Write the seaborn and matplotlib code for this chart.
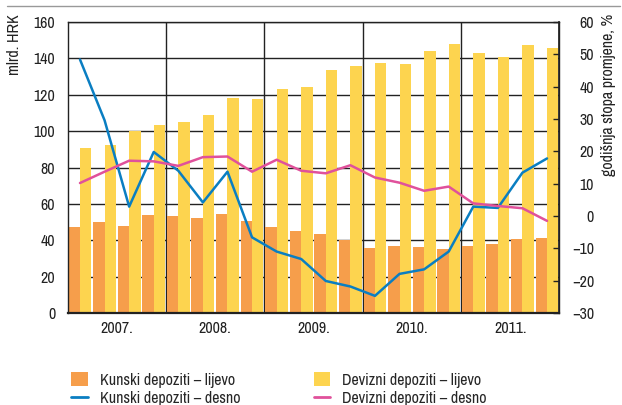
import numpy as np
import pandas as pd
import matplotlib
matplotlib.use("Agg")
import matplotlib.pyplot as plt
import seaborn as sns
from matplotlib.lines import Line2D
from matplotlib.patches import Patch

# ---- data ----
quarters = ["2007Q1", "2007Q2", "2007Q3", "2007Q4",
            "2008Q1", "2008Q2", "2008Q3", "2008Q4",
            "2009Q1", "2009Q2", "2009Q3", "2009Q4",
            "2010Q1", "2010Q2", "2010Q3", "2010Q4",
            "2011Q1", "2011Q2", "2011Q3", "2011Q4"]
year_labels = ["2007.", "2008.", "2009.", "2010.", "2011."]
left_ticks = [0, 20, 40, 60, 80, 100, 120, 140, 160]
right_ticks = [-30, -20, -10, 0, 10, 20, 30, 40, 50, 60]

kunski_lijevo = [47.3, 50.1, 47.9, 53.9, 53.4, 52.3, 54.5, 50.6, 47.3, 45.3,
                 43.5, 39.9, 35.8, 36.9, 36.4, 35.3, 36.9, 38.0, 40.8, 41.3]
devizni_lijevo = [90.7, 92.3, 100.0, 103.3, 104.9, 108.8, 118.1, 117.6, 123.0, 124.1,
                  133.5, 135.6, 137.3, 136.7, 143.9, 147.9, 142.8, 140.6, 147.2, 145.5]
kunski_desno = [48.4, 29.6, 2.9, 19.8, 14.0, 4.2, 13.7, -6.6, -11.0, -13.3,
                -20.1, -21.8, -24.7, -17.9, -16.5, -11.0, 2.9, 2.5, 13.4, 17.8]
devizni_desno = [10.2, 13.7, 17.1, 16.9, 15.5, 18.2, 18.4, 13.7, 17.4, 14.0,
                 13.2, 15.7, 11.9, 10.3, 7.8, 9.1, 3.9, 3.1, 2.4, -1.5]

series_names = ["Kunski depoziti \u2013 lijevo", "Devizni depoziti \u2013 lijevo",
                "Kunski depoziti \u2013 desno", "Devizni depoziti \u2013 desno"]

ORANGE = "#F69E4B"
YELLOW = "#FDD44F"
BLUE = "#0A7EC2"
PINK = "#E0519B"
INK = "#222222"
FS = 11.5

sns.set_theme(style="white")
plt.rcParams["font.family"] = ["Archivo Narrow", "DejaVu Sans"]

bars_df = pd.DataFrame({
    "quarter": quarters * 2,
    "value": kunski_lijevo + devizni_lijevo,
    "series": [series_names[0]] * len(quarters) + [series_names[1]] * len(quarters),
})
pos = list(range(len(quarters)))
lines_df = pd.DataFrame({
    "pos": pos * 2,
    "value": kunski_desno + devizni_desno,
    "series": [series_names[2]] * len(quarters) + [series_names[3]] * len(quarters),
})

fig = plt.figure(figsize=(6.22, 4.05), dpi=100)
ax = fig.add_axes([67.7 / 622, 1 - 313 / 405, (559.3 - 67.7) / 622, (313 - 22) / 405])

sns.barplot(data=bars_df, x="quarter", y="value", hue="series",
            palette=[ORANGE, YELLOW], width=0.93, gap=0, saturation=1,
            linewidth=0, legend=False, ax=ax, order=quarters,
            hue_order=series_names[:2])

ax.set_xlim(-0.5, len(quarters) - 0.5)
ax.set_ylim(0, 160)
ax.set_yticks(left_ticks)
ax.set_xticks([1.5, 5.5, 9.5, 13.5, 17.5])
ax.set_xticklabels(year_labels)
ax.set_xticks([3.5, 7.5, 11.5, 15.5], minor=True)
ax.set_xlabel("")
ax.set_ylabel("")
ax.set_axisbelow(True)
ax.grid(True, axis="y", which="major", color=INK, linewidth=1.0)
ax.grid(True, axis="x", which="minor", color=INK, linewidth=1.0)
ax.grid(False, axis="x", which="major")
ax.tick_params(axis="both", which="both", length=0, labelsize=FS, colors=INK)
ax.tick_params(axis="y", pad=9)
ax.tick_params(axis="x", pad=6)
for s in ax.spines.values():
    s.set_visible(True)
    s.set_color(INK)
    s.set_linewidth(1.0)
    s.set_zorder(3)
ax.spines["bottom"].set_linewidth(1.6)

ax2 = ax.twinx()
sns.lineplot(data=lines_df, x="pos", y="value", hue="series",
             palette=[BLUE, PINK], hue_order=series_names[2:],
             linewidth=1.8, legend=False, ax=ax2)
ax2.set_ylim(-30, 60)
ax2.set_xlim(-0.5, len(quarters) - 0.5)
ax2.set_ylabel("")
ax2.set_xlabel("")
ax2.tick_params(axis="y", direction="in", length=4, width=1, colors=INK,
                labelsize=FS, pad=25)
ax2.set_yticks(right_ticks)
ax2.set_yticklabels([str(v).replace("-", "\u2212") for v in right_ticks], ha="right")
for s in ax2.spines.values():
    s.set_visible(False)
ax2.spines["right"].set_visible(True)
ax2.spines["right"].set_color(INK)

fig.text(15 / 622, 1 - 14 / 405, "mlrd. HRK", rotation=90, ha="center", va="top",
         fontsize=FS, color=INK)
fig.text(608 / 622, 1 - 14 / 405, "godišnja stopa promjene, %", rotation=90,
         ha="center", va="top", fontsize=FS, color=INK)

fig.add_artist(Line2D([7 / 622, 620 / 622], [1 - 6 / 405, 1 - 6 / 405],
                      transform=fig.transFigure, color="#999999", linewidth=1.0))

handles = [Patch(facecolor=ORANGE, edgecolor="none"),
           Line2D([0], [0], color=BLUE, linewidth=2),
           Patch(facecolor=YELLOW, edgecolor="none"),
           Line2D([0], [0], color=PINK, linewidth=2)]
labels = [series_names[0], series_names[2], series_names[1], series_names[3]]
fig.legend(handles, labels, ncol=2, loc="upper left",
           bbox_to_anchor=(71 / 622, 1 - 372 / 405), frameon=False,
           fontsize=FS, handlelength=1.05, handleheight=1.0,
           handletextpad=0.75, columnspacing=4.6, labelspacing=0.2,
           borderaxespad=0, borderpad=0)

fig.savefig("out.png", dpi=100)
